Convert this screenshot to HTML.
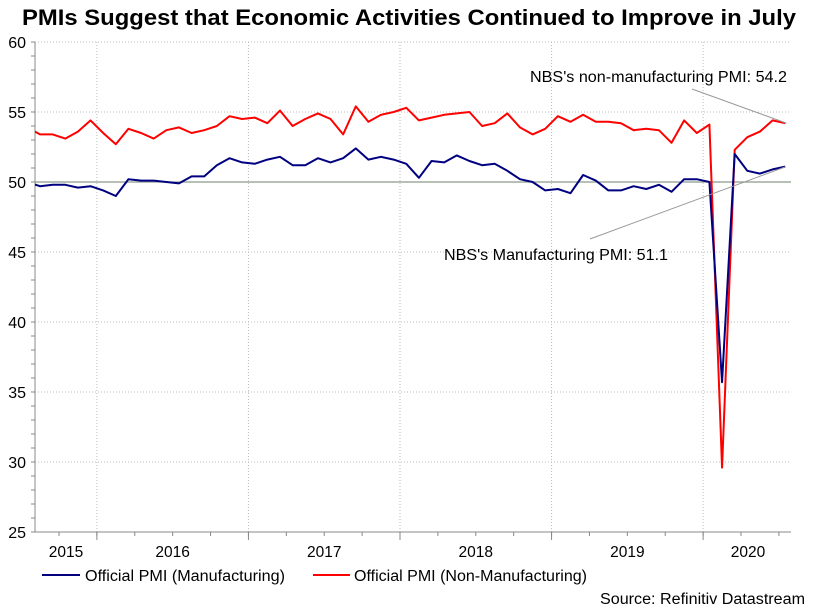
<!DOCTYPE html>
<html><head><meta charset="utf-8"><style>
body{margin:0;background:#fff;font-family:"Liberation Sans",Arial,sans-serif}
svg text{font-family:"Liberation Sans",Arial,sans-serif}
</style></head><body>
<svg id="c" width="817" height="608" xmlns="http://www.w3.org/2000/svg">
<text x="22" y="25" font-size="22" font-weight="bold" fill="#000" textLength="774" lengthAdjust="spacingAndGlyphs">PMIs Suggest that Economic Activities Continued to Improve in July</text>
<g id="grid"></g><g id="axes"></g><g id="series"></g>
<line x1="692" y1="89" x2="786" y2="123" stroke="#999" stroke-width="1"/>
<text x="530" y="82" font-size="16" fill="#000" textLength="257" lengthAdjust="spacingAndGlyphs">NBS's non-manufacturing PMI: 54.2</text>
<line x1="590" y1="239" x2="785" y2="167" stroke="#999" stroke-width="1"/>
<text x="444" y="260" font-size="16" fill="#000" textLength="224" lengthAdjust="spacingAndGlyphs">NBS's Manufacturing PMI: 51.1</text>
<g>
<line x1="42" y1="575" x2="80" y2="575" stroke="#000080" stroke-width="2"/>
<text x="85" y="581" font-size="15.5" fill="#000" textLength="200" lengthAdjust="spacingAndGlyphs">Official PMI (Manufacturing)</text>
<line x1="313" y1="575" x2="350" y2="575" stroke="#ff0000" stroke-width="2"/>
<text x="354" y="581" font-size="15.5" fill="#000" textLength="233" lengthAdjust="spacingAndGlyphs">Official PMI (Non-Manufacturing)</text>
</g>
<text x="600" y="604" font-size="15.5" fill="#000" textLength="205" lengthAdjust="spacingAndGlyphs">Source: Refinitiv Datastream</text>
</svg>
<script>
const months = 61; // Jul 2015 .. Jul 2020
const mfg = [50.0,49.7,49.8,49.8,49.6,49.7,
49.4,49.0,50.2,50.1,50.1,50.0,49.9,50.4,50.4,51.2,51.7,51.4,
51.3,51.6,51.8,51.2,51.2,51.7,51.4,51.7,52.4,51.6,51.8,51.6,
51.3,50.3,51.5,51.4,51.9,51.5,51.2,51.3,50.8,50.2,50.0,49.4,
49.5,49.2,50.5,50.1,49.4,49.4,49.7,49.5,49.8,49.3,50.2,50.2,
50.0,35.7,52.0,50.8,50.6,50.9,51.1];
const nonMfg = [53.9,53.4,53.4,53.1,53.6,54.4,
53.5,52.7,53.8,53.5,53.1,53.7,53.9,53.5,53.7,54.0,54.7,54.5,
54.6,54.2,55.1,54.0,54.5,54.9,54.5,53.4,55.4,54.3,54.8,55.0,
55.3,54.4,54.6,54.8,54.9,55.0,54.0,54.2,54.9,53.9,53.4,53.8,
54.7,54.3,54.8,54.3,54.3,54.2,53.7,53.8,53.7,52.8,54.4,53.5,
54.1,29.6,52.3,53.2,53.6,54.4,54.2];
const yTicks = [25,30,35,40,45,50,55,60];
const yearLabels = ["2015","2016","2017","2018","2019","2020"];

const L=35,R=791,T=42,B=532,NS="http://www.w3.org/2000/svg";
const y=v=>T+(60-v)*(B-T)/35;
const x=i=>27.4+i*12.63; // i=0 -> Jul 2015
const yearStart=k=>x(6+12*k)-6.3; // k=0 -> Jan 2016 boundary
function el(tag,attrs,parent){const e=document.createElementNS(NS,tag);for(const k in attrs)e.setAttribute(k,attrs[k]);parent.appendChild(e);return e;}
const grid=document.getElementById('grid'),axes=document.getElementById('axes'),series=document.getElementById('series');
yTicks.forEach(v=>{
  if(v>25&&v!==50){const g=el('line',{x1:L,x2:R,y1:y(v),y2:y(v),stroke:'#bbb','stroke-dasharray':'1,2'},grid);
  
  }
  const t=el('text',{x:26,y:y(v)+6,'text-anchor':'end','font-size':'16',fill:'#000'},axes);t.textContent=v;
  
  
});
for(let v=25;v<=60;v++){el('line',{x1:L-4,x2:L,y1:y(v),y2:y(v),stroke:'#888'},axes);}
const ref=el('line',{x1:L,x2:R,y1:y(50),y2:y(50),stroke:'#8a9a8a','stroke-width':1.3},grid);


for(let k=0;k<5;k++){const g=el('line',{x1:yearStart(k),x2:yearStart(k),y1:T,y2:B,stroke:'#bbb','stroke-dasharray':'1,2'},grid);
  
  
  el('line',{x1:yearStart(k),x2:yearStart(k),y1:B,y2:B+8,stroke:'#888'},axes);}
for(let q=-2;q<20;q++){const xx=yearStart(0)+q*3*12.63;if(xx>L&&xx<R)el('line',{x1:xx,x2:xx,y1:B,y2:B+4,stroke:'#888'},axes);}
yearLabels.forEach((s,k)=>{
  let cx=k===0?66:(k===5?748:(yearStart(k-1)+yearStart(k))/2);
  const t=el('text',{x:cx,y:557,'text-anchor':'middle','font-size':'15.5',fill:'#000'},axes);t.textContent=s;
  
  
});
el('line',{x1:L,x2:L,y1:T,y2:B,stroke:'#888'},axes);
el('line',{x1:L,x2:R,y1:B,y2:B,stroke:'#888'},axes);
el('clipPath',{id:'clip'},series);
el('rect',{x:L,y:T-5,width:R-L,height:B-T+10},document.getElementById('clip'));
function line(data,color,name){
  const p=el('polyline',{points:data.map((v,i)=>x(i)+','+y(v)).join(' '),fill:'none',stroke:color,'stroke-width':2,'clip-path':'url(#clip)','stroke-linejoin':'round'},series);
  
  
}
line(nonMfg,'#ff0000','nonmfg-series-line');
line(mfg,'#000080','mfg-series-line');
</script>
</body></html>
